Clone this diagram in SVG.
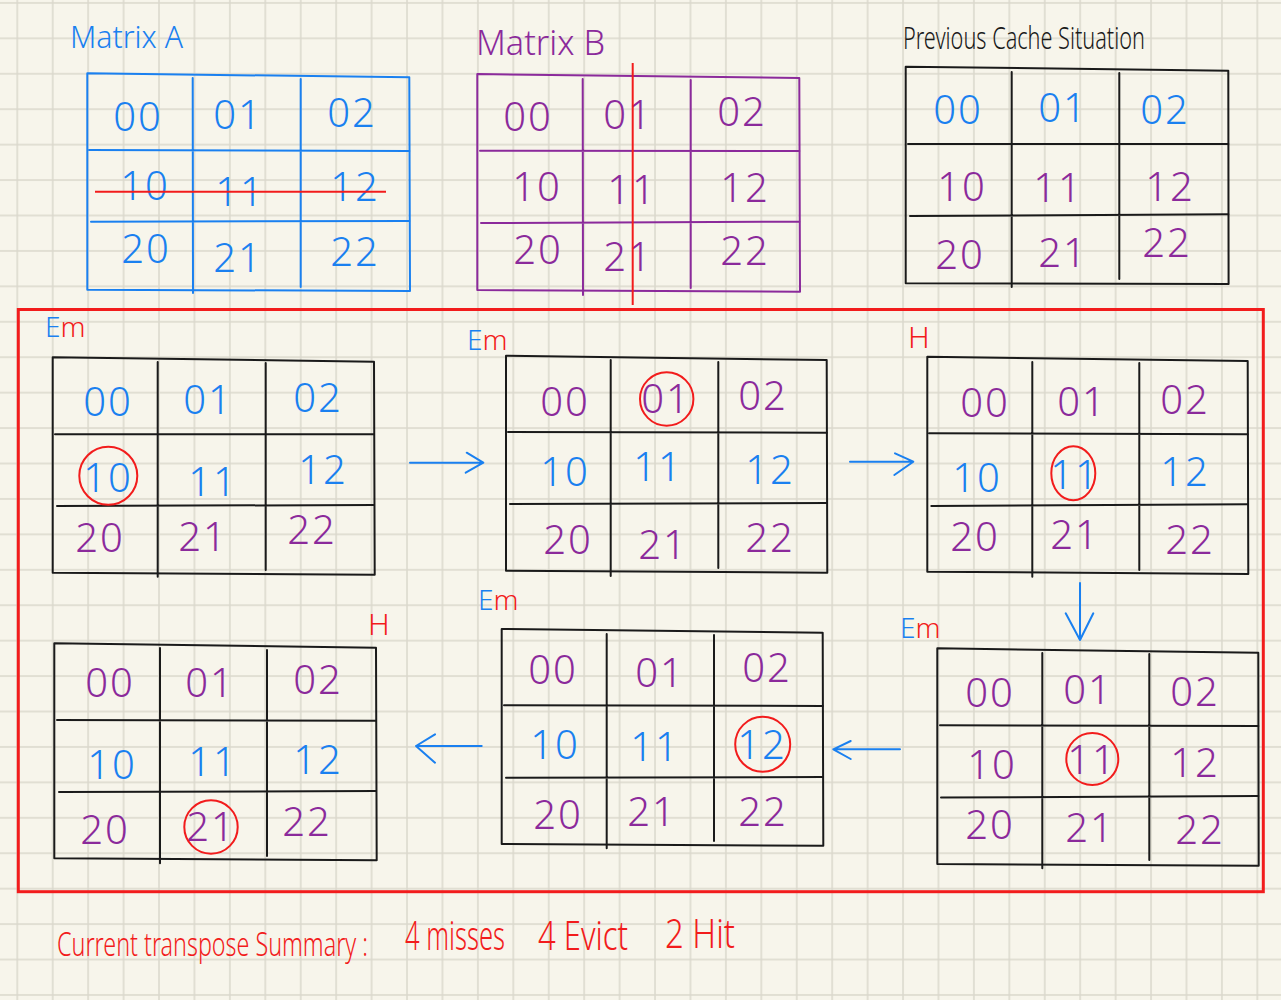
<svg xmlns="http://www.w3.org/2000/svg" width="1281" height="1000" viewBox="0 0 1281 1000">
<defs>
<pattern id="grid" patternUnits="userSpaceOnUse" x="-0.415" y="-14.8" width="35.43" height="35.43">
<path d="M17.715 0V35.43M0 17.715H35.43" stroke="#dad8cc" stroke-width="1.5" fill="none"/>
</pattern>
<style>
.bl{stroke:#1a80f0;}
.pu{stroke:#8b2a9b;}
.bk{stroke:#1a1a1a;}
.box{fill:none;stroke-width:2;stroke-linejoin:round;stroke-linecap:round}
.d{font-family:"Noto Sans","DejaVu Sans",sans-serif;font-weight:300;font-size:40px;text-anchor:middle;letter-spacing:2px}
.b{fill:#1a80f0}
.p{fill:#8b2a9b}
.r{fill:#f21c1c}
.k{fill:#1a1a1a}
.lbl{font-family:"Noto Sans","DejaVu Sans",sans-serif;font-weight:300}
.circ{fill:none;stroke:#f21c1c;stroke-width:2}
.arr{fill:none;stroke:#1a80f0;stroke-width:2;stroke-linecap:round;stroke-linejoin:round}
</style>
</defs>
<rect width="1281" height="1000" fill="#f7f5eb"/>
<rect width="1281" height="1000" fill="url(#grid)"/>

<g id="matrixA">
<text class="lbl b" x="70" y="48" font-size="32" textLength="113" lengthAdjust="spacingAndGlyphs">Matrix A</text>
<g class="box bl">
<path d="M87.3 73.3L409.3 77.3L410 291L87.3 289.7Z"/>
<path d="M192.7 78L193 293M300.7 79L300.7 287M89 150L409.3 151M91 221.7L409.3 221"/>
</g>
<g class="d b">
<text x="138" y="131">00</text><text x="238" y="129">01</text><text x="352" y="127">02</text>
<text x="145" y="200">10</text><text x="240" y="206">11</text><text x="355" y="201">12</text>
<text x="146" y="263">20</text><text x="238" y="272">21</text><text x="355" y="266">22</text>
</g>
<path d="M95 191.7L386 191.7" stroke="#f21c1c" stroke-width="2"/>
</g>

<g id="matrixB">
<text class="lbl p" x="476" y="55" font-size="34" textLength="129" lengthAdjust="spacingAndGlyphs">Matrix B</text>
<g class="box pu">
<path d="M477.3 74L799.3 78L800 291.7L477.3 290Z"/>
<path d="M582.7 79L583 295M690.7 80L690.7 288M480 150.7L799.3 151M481 223L799.3 221.7"/>
</g>
<g class="d p">
<text x="528" y="131">00</text><text x="628" y="129">01</text><text x="742" y="126">02</text>
<text x="537" y="201">10</text><text x="632" y="204">11</text><text x="745" y="202">12</text>
<text x="538" y="264">20</text><text x="628" y="271">21</text><text x="745" y="265">22</text>
</g>
<path d="M632.7 63L632.7 305" stroke="#f21c1c" stroke-width="2"/>
</g>

<g id="previousCache">
<text class="lbl k" x="903" y="49" font-size="32" textLength="242" lengthAdjust="spacingAndGlyphs">Previous Cache Situation</text>
<g class="box bk">
<path d="M905.7 66.7L1228.3 70.7L1228.6 284L905.7 283.3Z"/>
<path d="M1011.7 72L1011.7 287M1119.3 73L1119.3 279M908 144L1228.3 144M910 216L1228.3 214.3"/>
</g>
<g class="d">
<text class="b" x="958" y="124">00</text><text class="b" x="1063" y="122">01</text><text class="b" x="1165" y="124">02</text>
<text class="p" x="962" y="201">10</text><text class="p" x="1058" y="202">11</text><text class="p" x="1170" y="201">12</text>
<text class="p" x="960" y="269">20</text><text class="p" x="1063" y="267">21</text><text class="p" x="1167" y="257">22</text>
</g>
</g>

<rect id="frame" x="18.3" y="309.5" width="1245" height="582.2" fill="none" stroke="#f21c1c" stroke-width="3"/>

<g id="step1">
<text class="lbl" x="45" y="337" font-size="28"><tspan class="b">E</tspan><tspan class="r">m</tspan></text>
<g class="box bk">
<path d="M52.7 357.3L374 361.7L374.7 574.7L52.7 572.7Z"/>
<path d="M157.7 362L157.7 576.7M265.7 363L265.7 570M55 434.3L374 434.3M57 506L374 505"/>
</g>
<g class="d">
<text class="b" x="108" y="416">00</text><text class="b" x="208" y="414">01</text><text class="b" x="318" y="412">02</text>
<text class="b" x="108" y="492">10</text><text class="b" x="213" y="496">11</text><text class="b" x="323" y="484">12</text>
<text class="p" x="100" y="552">20</text><text class="p" x="203" y="551">21</text><text class="p" x="312" y="544">22</text>
</g>
<circle class="circ" cx="108.3" cy="475.7" r="29"/>
</g>

<g id="step2">
<text class="lbl" x="467" y="350" font-size="28"><tspan class="b">E</tspan><tspan class="r">m</tspan></text>
<g class="box bk">
<path d="M506 355.7L826.7 360L827.3 572.7L506 570.7Z"/>
<path d="M610.7 360L610.7 576M718.3 362L718.3 568M508 432L826.7 432.7M510 504L826.7 503"/>
</g>
<g class="d">
<text class="p" x="565" y="416">00</text><text class="p" x="666" y="413">01</text><text class="p" x="763" y="410">02</text>
<text class="b" x="565" y="486">10</text><text class="b" x="658" y="481">11</text><text class="b" x="770" y="484">12</text>
<text class="p" x="568" y="554">20</text><text class="p" x="663" y="559">21</text><text class="p" x="770" y="552">22</text>
</g>
<circle class="circ" cx="666.7" cy="399" r="26.7"/>
</g>

<g id="step3">
<text class="lbl r" x="908" y="348" font-size="30">H</text>
<g class="box bk">
<path d="M927.3 356.7L1247.7 361L1248.3 574L927.3 571.7Z"/>
<path d="M1032.3 362L1032.3 576.7M1139.3 363L1139.3 570M929 433.3L1247.7 434.3M931.3 506L1247.7 504.3"/>
</g>
<g class="d">
<text class="p" x="985" y="417">00</text><text class="p" x="1082" y="416">01</text><text class="p" x="1185" y="414">02</text>
<text class="b" x="977" y="492">10</text><text class="b" x="1075" y="489">11</text><text class="b" x="1185" y="486">12</text>
<text class="p" x="975" y="551">20</text><text class="p" x="1075" y="549">21</text><text class="p" x="1190" y="554">22</text>
</g>
<ellipse class="circ" cx="1073.3" cy="473.3" rx="22" ry="27"/>
</g>

<g id="step4">
<text class="lbl" x="900" y="638" font-size="28"><tspan class="b">E</tspan><tspan class="r">m</tspan></text>
<g class="box bk">
<path d="M937.3 648.3L1258.3 652.7L1258.7 865.7L937.3 864Z"/>
<path d="M1042.3 653L1042.3 868.3M1149.3 654L1149.3 860M940 725.3L1258.3 726M941 797.5L1258.3 796"/>
</g>
<g class="d p">
<text x="990" y="707">00</text><text x="1088" y="704">01</text><text x="1195" y="706">02</text>
<text x="992" y="779">10</text><text x="1092" y="774">11</text><text x="1195" y="777">12</text>
<text x="990" y="839">20</text><text x="1090" y="842">21</text><text x="1200" y="844">22</text>
</g>
<circle class="circ" cx="1092.3" cy="759" r="26"/>
</g>

<g id="step5">
<text class="lbl" x="478" y="610" font-size="28"><tspan class="b">E</tspan><tspan class="r">m</tspan></text>
<g class="box bk">
<path d="M501.7 629L822.7 632.7L823.3 845.7L501.7 844Z"/>
<path d="M606.7 634L606.7 848.3M714 635L714 841M504 705.3L822.7 706M506 777.7L822.7 777"/>
</g>
<g class="d">
<text class="p" x="553" y="684">00</text><text class="p" x="660" y="687">01</text><text class="p" x="767" y="682">02</text>
<text class="b" x="555" y="759">10</text><text class="b" x="655" y="761">11</text><text class="b" x="762" y="759">12</text>
<text class="p" x="558" y="829">20</text><text class="p" x="652" y="826">21</text><text class="p" x="763" y="826">22</text>
</g>
<circle class="circ" cx="762.7" cy="744.3" r="27.5"/>
</g>

<g id="step6">
<text class="lbl r" x="368" y="635" font-size="30">H</text>
<g class="box bk">
<path d="M54.3 643.3L376 647.7L376.7 860.3L54.3 858.3Z"/>
<path d="M160 648L160 863.3M267 650L267 856M57 720L376 720.7M59 792L376 791"/>
</g>
<g class="d">
<text class="p" x="110" y="697">00</text><text class="p" x="210" y="697">01</text><text class="p" x="318" y="694">02</text>
<text class="b" x="112" y="779">10</text><text class="b" x="213" y="776">11</text><text class="b" x="318" y="774">12</text>
<text class="p" x="105" y="844">20</text><text class="p" x="211" y="841">21</text><text class="p" x="307" y="836">22</text>
</g>
<circle class="circ" cx="211" cy="827" r="26.7"/>
</g>

<g id="connectors" class="arr">
<path d="M410 462.7H483.3M466.7 452.7L483.3 462.7L465.7 472.7"/>
<path d="M850 461.7H913.3M895 453.3L913.3 461.7L894.3 475"/>
<path d="M1080 583V640M1065.7 613.3L1080 640L1093.3 613.3"/>
<path d="M900 749.3H833.3M850.7 741L833.3 749.3L850.7 759"/>
<path d="M481.7 746H416M435 734.3L416 746L435 762.7"/>
</g>

<g id="summary" class="lbl r">
<g transform="translate(0,956) scale(1,1.3)">
<text x="57" y="0" font-size="25" textLength="311" lengthAdjust="spacingAndGlyphs">Current transpose Summary :</text>
</g>
<g transform="translate(0,950) scale(1,1.55)">
<text x="405" y="0" font-size="26" textLength="100" lengthAdjust="spacingAndGlyphs">4 misses</text>
<text x="538" y="0" font-size="26" textLength="90" lengthAdjust="spacingAndGlyphs">4 Evict</text>
<text x="665" y="-1" font-size="26" textLength="70" lengthAdjust="spacingAndGlyphs">2 Hit</text>
</g>
</g>
</svg>
